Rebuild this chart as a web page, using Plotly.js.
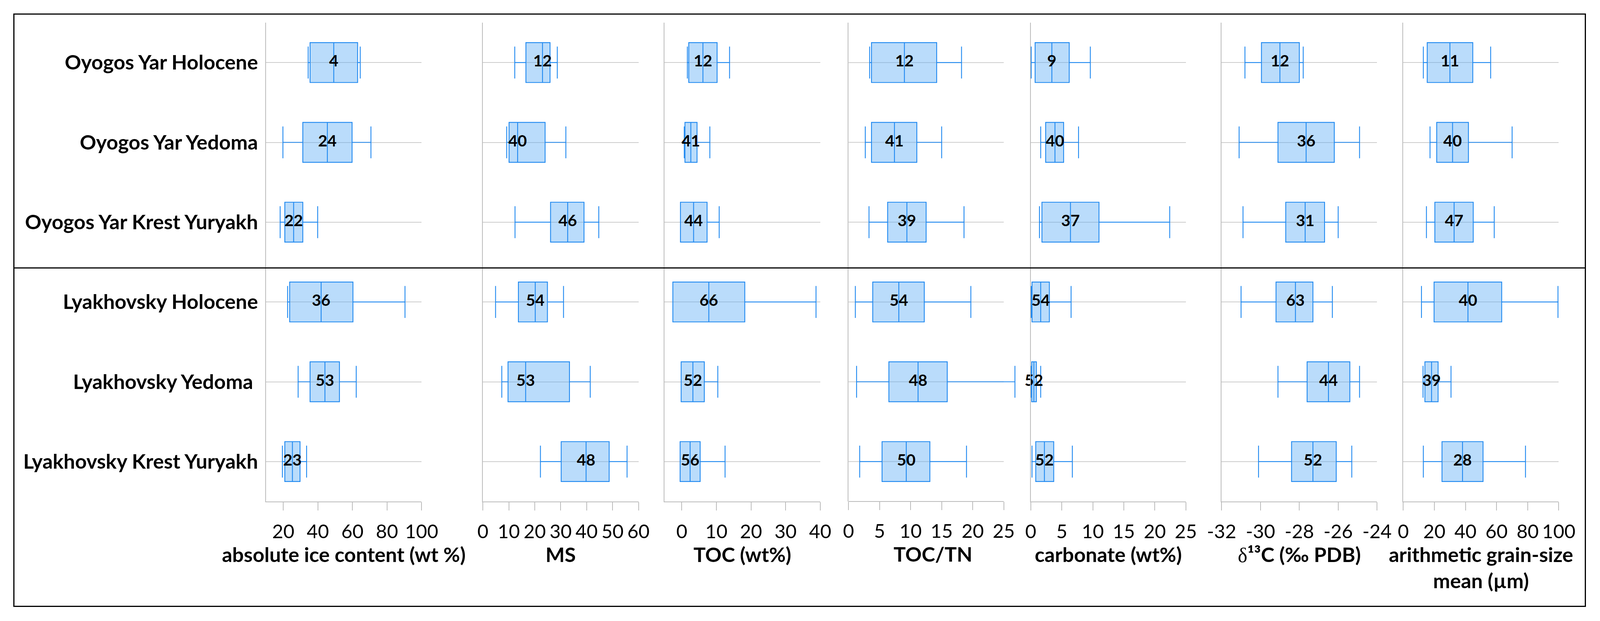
<!DOCTYPE html>
<html>
<head>
<meta charset="utf-8">
<script src="https://cdn.plot.ly/plotly-3.0.1.min.js"></script>
<style>html,body{margin:0;padding:0;background:#fff;overflow:hidden}</style>
</head>
<body>
<div id="chart"></div>
<script>
// ---------------- DATA ----------------
const categories = ['Oyogos Yar Holocene', 'Oyogos Yar Yedoma', 'Oyogos Yar Krest Yuryakh',
                    'Lyakhovsky Holocene', 'Lyakhovsky Yedoma', 'Lyakhovsky Krest Yuryakh'];
const categoryLabels = ['Oyogos Yar Holocene', 'Oyogos Yar Yedoma', 'Oyogos Yar Krest Yuryakh',
                        'Lyakhovsky Holocene', 'Lyakhovsky Yedoma\u00a0', 'Lyakhovsky Krest Yuryakh'];

// absolute ice content (wt %)
const iceLow  = [34.4, 19.8, 18.2, 22.5, 28.6, 19.5];
const iceQ1   = [35.5, 31.3, 20.9, 23.7, 35.5, 20.9];
const iceMed  = [49.2, 45.5, 26.0, 41.9, 44.1, 25.3];
const iceQ3   = [63.0, 59.8, 31.3, 60.3, 52.5, 29.7];
const iceHigh = [64.5, 70.7, 39.9, 90.4, 62.2, 33.5];
const iceN    = [4, 24, 22, 36, 53, 23];

// MS
const msLow  = [12.3, 9.2, 12.4, 4.9, 7.3, 22.2];
const msQ1   = [16.6, 10.1, 26.1, 13.7, 9.7, 30.2];
const msMed  = [23.0, 13.4, 32.7, 20.2, 16.5, 39.8];
const msQ3   = [25.9, 24.0, 39.0, 24.9, 33.4, 48.7];
const msHigh = [28.7, 32.0, 44.7, 31.1, 41.4, 55.6];
const msN    = [12, 40, 46, 54, 53, 48];

// TOC (wt%)
const tocLow  = [1.6, 0.7, 0.5, 0.2, 0.8, 0.3];
const tocQ1   = [2.0, 0.9, -0.4, -2.6, -0.2, -0.5];
const tocMed  = [6.1, 2.6, 3.4, 7.8, 3.2, 2.4];
const tocQ3   = [10.2, 4.4, 7.3, 18.2, 6.5, 5.3];
const tocHigh = [13.8, 8.1, 10.8, 38.8, 10.4, 12.5];
const tocN    = [12, 41, 44, 66, 52, 56];

// TOC/TN
const ctnLow  = [3.4, 2.7, 3.3, 1.1, 1.3, 1.8];
const ctnQ1   = [3.7, 3.7, 6.3, 3.9, 6.5, 5.4];
const ctnMed  = [9.0, 7.4, 9.4, 8.1, 11.2, 9.3];
const ctnQ3   = [14.2, 11.0, 12.5, 12.2, 15.9, 13.1];
const ctnHigh = [18.2, 15.0, 18.6, 19.7, 26.8, 19.0];
const ctnN    = [12, 41, 39, 54, 48, 50];

// carbonate (wt%)
const carbLow  = [0.07, 1.6, 1.4, 0.07, 0.07, 0.2];
const carbQ1   = [0.7, 2.4, 1.8, 0.2, 0.15, 0.8];
const carbMed  = [3.4, 3.9, 6.4, 1.6, 0.5, 2.2];
const carbQ3   = [6.2, 5.3, 11.0, 3.0, 0.9, 3.7];
const carbHigh = [9.6, 7.7, 22.4, 6.5, 1.6, 6.7];
const carbN    = [9, 40, 37, 54, 52, 52];

// d13C (permil PDB)
const d13Low  = [-30.8, -31.1, -30.9, -31.0, -29.1, -30.1];
const d13Q1   = [-29.95, -29.1, -28.7, -29.2, -27.6, -28.4];
const d13Med  = [-29.0, -27.65, -27.7, -28.2, -26.5, -27.3];
const d13Q3   = [-28.0, -26.2, -26.7, -27.3, -25.4, -26.1];
const d13High = [-27.8, -24.9, -26.0, -26.3, -24.9, -25.3];
const d13N    = [12, 36, 31, 63, 44, 52];
const d13TickVals = [-32, -30, -28, -26, -24];
const d13TickText = ['-32', '-30', '-28', '-26', '-24'];

// arithmetic grain-size mean (um)
const gsLow  = [12.9, 17.2, 14.9, 11.7, 12.7, 12.9];
const gsQ1   = [15.4, 21.5, 20.3, 19.8, 13.9, 24.9];
const gsMed  = [30.0, 31.7, 32.7, 41.6, 18.2, 38.1];
const gsQ3   = [44.7, 41.9, 45.0, 63.3, 22.4, 51.3];
const gsHigh = [56.2, 70.0, 58.5, 99.5, 30.7, 78.6];
const gsN    = [11, 40, 47, 40, 39, 28];

const axisTitles = ['absolute ice content (wt %)', 'MS', 'TOC (wt%)', 'TOC/TN', 'carbonate (wt%)',
  '<span style="font-family:\'Liberation Serif\';font-weight:normal">\u03b4</span>\u00b9\u00b3C (\u2030 PDB)',
  'arithmetic grain-size<br>mean (\u00b5m)'];

// ---------------- LAYOUT CONSTANTS ----------------
// geometry is measured on a 4205 x 1590 reference and mapped onto the actual viewport
const RW = 4205, RH = 1590;
const W = window.innerWidth || RW, H = window.innerHeight || RH;
document.getElementById('chart').style.width = W + 'px';
document.getElementById('chart').style.height = H + 'px';
const FONT = 'Lato, "Open Sans", sans-serif';
const LINE = '#1E88F0', FILL = 'rgba(90,172,245,0.42)';
const AXC = '#BBBBBB', GRIDC = '#CCCCCC';

const panels = [
  {low: iceLow, q1: iceQ1, med: iceMed, q3: iceQ3, high: iceHigh, n: iceN, px: [699, 1108], range: [10, 100], dtick: 20},
  {low: msLow, q1: msQ1, med: msMed, q3: msQ3, high: msHigh, n: msN, px: [1269, 1678], range: [0, 60], dtick: 10},
  {low: tocLow, q1: tocQ1, med: tocMed, q3: tocQ3, high: tocHigh, n: tocN, px: [1746.5, 2155.5], range: [-5, 40], dtick: 10},
  {low: ctnLow, q1: ctnQ1, med: ctnMed, q3: ctnQ3, high: ctnHigh, n: ctnN, px: [2230, 2638], range: [0, 25], dtick: 5, overflow: 27.2},
  {low: carbLow, q1: carbQ1, med: carbMed, q3: carbQ3, high: carbHigh, n: carbN, px: [2709, 3116.5], range: [0, 25], dtick: 5},
  {low: d13Low, q1: d13Q1, med: d13Med, q3: d13Q3, high: d13High, n: d13N, px: [3210.6, 3619], range: [-32, -24], dtick: 2,
   tickvals: d13TickVals, ticktext: d13TickText},
  {low: gsLow, q1: gsQ1, med: gsMed, q3: gsQ3, high: gsHigh, n: gsN, px: [3688, 4096.6], range: [0, 100], dtick: 20}
];

const yDom = [1 - 1284 / RH, 1 - 58 / RH];
const traces = [];
const layout = {
  width: W, height: H, autosize: false,
  margin: {l: 0, r: 0, t: 0, b: 0, pad: 0},
  paper_bgcolor: '#fff', plot_bgcolor: 'rgba(0,0,0,0)',
  showlegend: false,
  font: {family: FONT, color: '#000'},
  shapes: []
};

panels.forEach((p, i) => {
  const s = i === 0 ? '' : String(i + 1);
  let dom = [p.px[0] / RW, p.px[1] / RW];
  let range = p.range.slice();
  if (p.overflow) {
    const pxPerUnit = (p.px[1] - p.px[0]) / (p.range[1] - p.range[0]);
    range = [p.range[0], p.overflow];
    dom = [p.px[0] / RW, (p.px[0] + pxPerUnit * (p.overflow - p.range[0])) / RW];
  }
  traces.push({
    type: 'box', orientation: 'h', y: categories,
    q1: p.q1, median: p.med, q3: p.q3, lowerfence: p.low, upperfence: p.high,
    xaxis: 'x' + s, yaxis: 'y' + s,
    width: 0.5, whiskerwidth: 0.8, boxpoints: false,
    fillcolor: FILL, line: {color: LINE, width: 2.2},
    hoverinfo: 'skip', showlegend: false
  });
  traces.push({
    type: 'scatter', mode: 'text', x: p.med, y: categories,
    text: p.n.map(v => '<b>' + v + '</b>'), textposition: 'middle center',
    textfont: {family: FONT, size: 41, color: '#000', weight: 700},
    cliponaxis: false, xaxis: 'x' + s, yaxis: 'y' + s,
    hoverinfo: 'skip', showlegend: false
  });
  const xa = {
    domain: dom, range: range, anchor: 'y' + s, fixedrange: true,
    showline: !p.overflow, linecolor: AXC, linewidth: 2,
    ticks: 'outside', ticklen: 21, tickwidth: 2, tickcolor: AXC,
    showgrid: false, zeroline: false,
    tickfont: {family: FONT, size: 49, color: '#000'},
    ticklabelstandoff: 12,
    title: {text: axisTitles[i], font: {family: FONT, size: 52, color: '#000', weight: 'bold'}, standoff: 11},
    automargin: false
  };
  if (p.tickvals) {
    xa.tickmode = 'array'; xa.tickvals = p.tickvals; xa.ticktext = p.ticktext;
  } else {
    xa.tickmode = 'linear'; xa.dtick = p.dtick; xa.tick0 = 0;
  }
  layout['xaxis' + s] = xa;
  layout['yaxis' + s] = {
    domain: yDom, anchor: 'x' + s, type: 'category',
    categoryorder: 'array', categoryarray: categories, range: [5.5, -0.5],
    fixedrange: true, showline: true, linecolor: AXC, linewidth: 2,
    showgrid: !p.overflow, gridcolor: GRIDC, gridwidth: 2, zeroline: false,
    ticks: '', showticklabels: i === 0,
    tickmode: 'array', tickvals: categories, ticktext: categoryLabels,
    tickfont: {family: FONT, size: 52, color: '#000', weight: 'bold'},
    ticklabelstandoff: 8, automargin: false
  };
  if (p.overflow) {
    layout.shapes.push({type: 'line', xref: 'x' + s, yref: 'paper', x0: p.range[0], x1: p.range[1],
      y0: yDom[0], y1: yDom[0], line: {color: AXC, width: 2}, layer: 'above'});
    categories.forEach((c, k) => {
      layout.shapes.push({type: 'line', xref: 'x' + s, yref: 'y' + s, x0: p.range[0], x1: p.range[1],
        y0: k, y1: k, line: {color: GRIDC, width: 2}, layer: 'below'});
    });
  }
});

// outer frame and divider between the two sites
layout.shapes.push({type: 'rect', xref: 'paper', yref: 'paper', x0: 36.5 / RW, x1: 4166.5 / RW,
  y0: 1 - 1552.5 / RH, y1: 1 - 36 / RH, line: {color: '#000', width: 3}, fillcolor: 'rgba(0,0,0,0)', layer: 'above'});
layout.shapes.push({type: 'line', xref: 'paper', yref: 'paper', x0: 36.5 / RW, x1: 4166.5 / RW,
  y0: 1 - 686 / RH, y1: 1 - 686 / RH, line: {color: '#000', width: 3}, layer: 'above'});

Plotly.newPlot('chart', traces, layout, {displayModeBar: false, staticPlot: true});
</script>
</body>
</html>
